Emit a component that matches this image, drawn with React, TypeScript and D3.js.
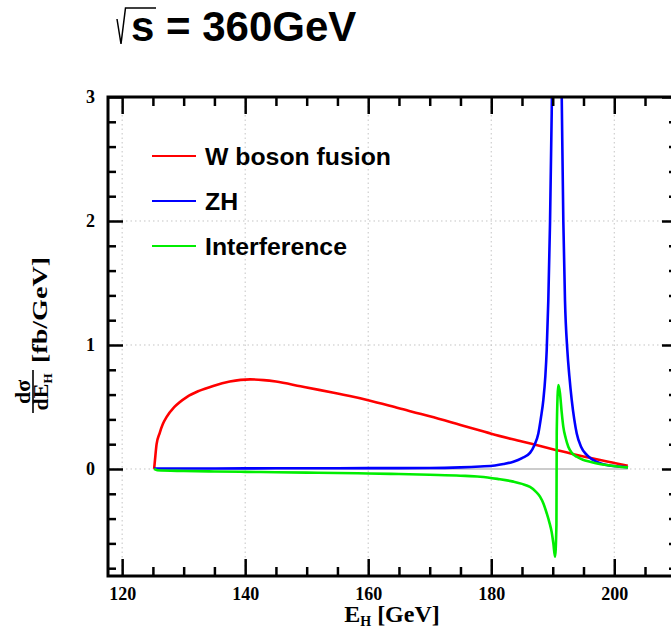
import { useEffect, useRef } from 'react';
import * as d3 from 'd3';

// E_H [GeV] vs dsigma/dE_H [fb/GeV]
const wbfPoints: [number, number][] = [
  [125.2, 0], [125.35, 0.08], [125.6, 0.2], [126.1, 0.29], [126.6, 0.36], [127.24, 0.42],
  [128.5, 0.5], [130.5, 0.58], [132.5, 0.63], [134.8, 0.67], [137.5, 0.705], [140.8, 0.723],
  [143, 0.717], [145, 0.705], [149, 0.667], [152, 0.638], [155.4, 0.604], [157, 0.588],
  [160, 0.555], [165, 0.49], [170, 0.425], [175, 0.355], [178.2, 0.31], [180, 0.284],
  [185, 0.222], [190, 0.16], [195, 0.1], [200, 0.048], [202.2, 0.026],
];

const zhPoints: [number, number][] = [
  [125.2, 0.004], [130, 0.004], [140, 0.005], [150, 0.006], [160, 0.007], [170, 0.008],
  [175, 0.013], [178.2, 0.02], [180.6, 0.028], [182, 0.04], [183.6, 0.059], [185, 0.088],
  [186.3, 0.13], [187, 0.19], [187.66, 0.287], [188.1, 0.42], [188.47, 0.556], [188.8, 0.75],
  [189.02, 0.96], [189.28, 1.36], [189.56, 1.99], [189.83, 2.87], [190.1, 4.0], [190.65, 6.5],
  [191.2, 4.0], [191.46, 3.0], [191.72, 2.0], [191.99, 1.36], [192.37, 0.96], [192.7, 0.75],
  [193.09, 0.556], [193.5, 0.4], [193.9, 0.287], [194.6, 0.18], [195.53, 0.113], [196.5, 0.075],
  [197.6, 0.048], [198.78, 0.032], [200.66, 0.02], [202.24, 0.014],
];

const interferencePoints: [number, number][] = [
  [125.2, 0], [125.7, -0.01], [130, -0.016], [135, -0.02], [140, -0.023], [145, -0.026],
  [150, -0.029], [155, -0.032], [160, -0.036], [165, -0.041], [170, -0.047], [175, -0.054],
  [178.2, -0.062], [181, -0.08], [183.6, -0.102], [185, -0.12], [186.3, -0.145], [187.2, -0.18],
  [187.93, -0.223], [188.5, -0.28], [189.02, -0.357], [189.45, -0.43], [189.83, -0.51],
  [190.1, -0.6], [190.37, -0.707], [190.6, -0.45], [190.65, 0.3], [190.91, 0.677],
  [191.18, 0.61], [191.45, 0.46], [191.72, 0.34], [192.1, 0.25], [192.53, 0.18], [193.1, 0.13],
  [193.9, 0.099], [194.9, 0.075], [196.06, 0.059], [197.4, 0.043], [198.78, 0.032],
  [200.5, 0.02], [202.24, 0.013],
];

const zeroLine: [number, number][] = [[125.2, 0], [202.2, 0]];

const xMajor = [120, 140, 160, 180, 200];
const xMinor = [125, 130, 135, 145, 150, 155, 165, 170, 175, 185, 190, 195, 205];
const yMajor = [0, 1, 2, 3];
const yMinor = [-0.8, -0.6, -0.4, -0.2, 0.2, 0.4, 0.6, 0.8, 1.2, 1.4, 1.6, 1.8, 2.2, 2.4, 2.6, 2.8];

const series = [
  { name: 'W boson fusion', points: wbfPoints, color: '#ff0000' },
  { name: 'ZH', points: zhPoints, color: '#0000ff' },
  { name: 'Interference', points: interferencePoints, color: '#00ee00' },
];

const App = () => {
  const svgRef = useRef<SVGSVGElement>(null);

  useEffect(() => {
    const left = 108, top = 97, right = 677, bottom = 576;
    const svg = d3.select(svgRef.current);
    svg.selectAll('*').remove();

    const x = d3.scaleLinear().domain([117.7, 210.2]).range([left, right]);
    const y = d3.scaleLinear().domain([-0.863, 3]).range([bottom, top]);

    svg.append('defs').append('clipPath').attr('id', 'plot-clip')
      .append('rect')
      .attr('x', left).attr('y', top)
      .attr('width', right - left).attr('height', bottom - top);

    // dotted grid
    const grid = svg.append('g')
      .attr('stroke', '#c4c4c4').attr('stroke-width', 1).attr('stroke-dasharray', '1.5,3');
    grid.selectAll('.gx').data(xMajor).enter().append('line')
      .attr('x1', d => x(d)).attr('x2', d => x(d))
      .attr('y1', top).attr('y2', bottom);
    grid.selectAll('.gy').data(yMajor).enter().append('line')
      .attr('x1', left).attr('x2', right)
      .attr('y1', d => y(d)).attr('y2', d => y(d));

    const line = d3.line<[number, number]>()
      .x(d => x(d[0])).y(d => y(d[1]))
      .curve(d3.curveMonotoneX);

    const plot = svg.append('g').attr('clip-path', 'url(#plot-clip)');
    plot.append('path').datum(zeroLine)
      .attr('d', line).attr('fill', 'none')
      .attr('stroke', '#cccccc').attr('stroke-width', 2);

    series.forEach(s => {
      plot.append('path').datum(s.points)
        .attr('d', line).attr('fill', 'none')
        .attr('stroke', s.color).attr('stroke-width', 2.6)
        .attr('stroke-linejoin', 'round');
    });

    // axes with inward ticks
    const tickStyle = (g: any) => {
      g.select('.domain').remove();
      g.selectAll('line').attr('stroke', '#000').attr('stroke-width', 2.5);
      g.selectAll('text')
        .attr('fill', '#000')
        .attr('font-family', '"Liberation Serif", "Times New Roman", serif')
        .attr('font-weight', 'bold')
        .attr('font-size', 18);
    };

    svg.append('g').attr('transform', `translate(0,${bottom})`)
      .call(d3.axisBottom(x).tickValues(xMajor).tickSize(-17).tickPadding(11).tickFormat(d3.format('d')))
      .call(tickStyle);
    svg.append('g').attr('transform', `translate(0,${bottom})`)
      .call(d3.axisBottom(x).tickValues(xMinor).tickSize(-9).tickFormat(() => ''))
      .call(tickStyle);
    svg.append('g').attr('transform', `translate(0,${top})`)
      .call(d3.axisTop(x).tickValues(xMajor).tickSize(-17).tickFormat(() => ''))
      .call(tickStyle);
    svg.append('g').attr('transform', `translate(0,${top})`)
      .call(d3.axisTop(x).tickValues(xMinor).tickSize(-9).tickFormat(() => ''))
      .call(tickStyle);

    svg.append('g').attr('transform', `translate(${left},0)`)
      .call(d3.axisLeft(y).tickValues(yMajor).tickSize(-15).tickPadding(13).tickFormat(d3.format('d')))
      .call(tickStyle);
    svg.append('g').attr('transform', `translate(${left},0)`)
      .call(d3.axisLeft(y).tickValues(yMinor).tickSize(-8).tickFormat(() => ''))
      .call(tickStyle);
    svg.append('g').attr('transform', `translate(${right},0)`)
      .call(d3.axisRight(y).tickValues(yMajor).tickSize(-15).tickFormat(() => ''))
      .call(tickStyle);
    svg.append('g').attr('transform', `translate(${right},0)`)
      .call(d3.axisRight(y).tickValues(yMinor).tickSize(-8).tickFormat(() => ''))
      .call(tickStyle);

    svg.append('rect')
      .attr('x', left).attr('y', top)
      .attr('width', right - left).attr('height', bottom - top)
      .attr('fill', 'none').attr('stroke', '#000').attr('stroke-width', 3);

    // legend
    const legend = svg.append('g');
    series.forEach((s, i) => {
      const by = 165 + i * 45;
      legend.append('line')
        .attr('x1', 152).attr('x2', 196)
        .attr('y1', by - 9).attr('y2', by - 9)
        .attr('stroke', s.color).attr('stroke-width', 2);
      legend.append('text')
        .attr('x', 205).attr('y', by)
        .attr('font-family', '"Liberation Sans", Arial, sans-serif')
        .attr('font-weight', 'bold').attr('font-size', 24.8)
        .text(s.name);
    });

    // title
    svg.append('path')
      .attr('d', 'M117,19 L121,44 L125.5,8 L156,8')
      .attr('fill', 'none').attr('stroke', '#000').attr('stroke-width', 1.5);
    svg.append('text')
      .attr('x', 131).attr('y', 41)
      .attr('font-family', '"Liberation Sans", Arial, sans-serif')
      .attr('font-weight', 'bold').attr('font-size', 42)
      .text('s = 360GeV');

    // x title
    const xt = svg.append('text')
      .attr('x', 392).attr('y', 622)
      .attr('text-anchor', 'middle')
      .attr('font-family', '"Liberation Serif", "Times New Roman", serif')
      .attr('font-weight', 'bold').attr('font-size', 24);
    xt.append('tspan').text('E');
    xt.append('tspan').attr('font-size', 14).attr('dy', 4).text('H');
    xt.append('tspan').attr('dy', -4).text(' [GeV]');

    // y title (rotated)
    const yt = svg.append('g')
      .attr('transform', 'translate(33,392) rotate(-90)')
      .attr('font-family', '"Liberation Serif", "Times New Roman", serif')
      .attr('font-weight', 'bold');
    yt.append('line')
      .attr('x1', -21).attr('x2', 22).attr('y1', 0).attr('y2', 0)
      .attr('stroke', '#000').attr('stroke-width', 1.6);
    yt.append('text')
      .attr('x', 0).attr('y', -3).attr('text-anchor', 'middle')
      .attr('font-size', 22).text('dσ');
    const den = yt.append('text')
      .attr('x', 0).attr('y', 15).attr('text-anchor', 'middle')
      .attr('font-size', 22);
    den.append('tspan').text('dE');
    den.append('tspan').attr('font-size', 13).attr('dy', 4).text('H');
    yt.append('text')
      .attr('x', 29).attr('y', 14)
      .attr('font-size', 22)
      .attr('textLength', 106).attr('lengthAdjust', 'spacingAndGlyphs')
      .text('[fb/GeV]');
  }, []);

  return (
    <svg
      ref={svgRef}
      width={671}
      height={630}
      style={{ position: 'absolute', left: 0, top: 0, background: '#fff' }}
    />
  );
};

export default App;
